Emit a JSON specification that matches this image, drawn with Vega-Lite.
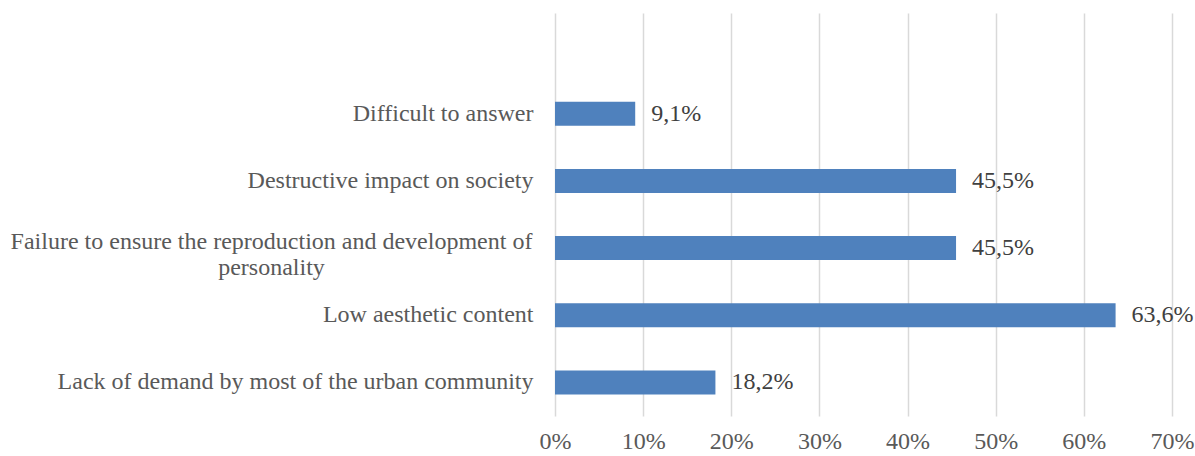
{
  "$schema": "https://vega.github.io/schema/vega-lite/v6.json",
  "width": 617,
  "height": 403,
  "autosize": {"type": "none"},
  "padding": {"left": 555, "top": 13, "right": 23, "bottom": 40},
  "background": "white",
  "config": {
    "view": {"stroke": null},
    "locale": {"number": {"decimal": ",", "thousands": " ", "grouping": [3], "currency": ["", ""]}},
    "font": "Liberation Serif"
  },
  "data": {
    "values": [
      {"category": "Difficult to answer", "share": 0.091},
      {"category": "Destructive impact on society", "share": 0.455},
      {"category": "Failure to ensure the reproduction and development of personality", "share": 0.455},
      {"category": "Low aesthetic content", "share": 0.636},
      {"category": "Lack of demand by most of the urban community", "share": 0.182}
    ]
  },
  "encoding": {
    "y": {
      "field": "category",
      "type": "nominal",
      "sort": null,
      "scale": {
        "domain": ["", "Difficult to answer", "Destructive impact on society", "Failure to ensure the reproduction and development of personality", "Low aesthetic content", "Lack of demand by most of the urban community"],
        "paddingInner": 0.643,
        "paddingOuter": 0.3215
      },
      "axis": {
        "title": null,
        "domain": false,
        "ticks": false,
        "labelFont": "Liberation Serif",
        "labelFontSize": 24,
        "labelColor": "#595959",
        "labelLimit": 600,
        "labelLineHeight": 26,
        "labelExpr": "datum.value == 'Failure to ensure the reproduction and development of personality' ? ['Failure to ensure the reproduction and development of', 'personality'] : datum.value",
        "labelAlign": {"condition": {"test": "datum.value == 'Failure to ensure the reproduction and development of personality'", "value": "center"}, "value": "right"},
        "labelPadding": {"condition": {"test": "datum.value == 'Failure to ensure the reproduction and development of personality'", "value": 284}, "value": 22},
        "labelOffset": {"condition": {"test": "datum.value == 'Failure to ensure the reproduction and development of personality'", "value": -6}, "value": 0}
      }
    },
    "x": {
      "field": "share",
      "type": "quantitative",
      "scale": {"domain": [0, 0.7], "nice": false},
      "axis": {
        "title": null,
        "format": ".0%",
        "values": [0, 0.1, 0.2, 0.3, 0.4, 0.5, 0.6, 0.7],
        "domain": false,
        "ticks": false,
        "grid": true,
        "gridColor": "#D9D9D9",
        "gridWidth": 1.5,
        "labelFont": "Liberation Serif",
        "labelFontSize": 24,
        "labelColor": "#595959",
        "labelPadding": 13,
        "labelFlush": false
      }
    }
  },
  "layer": [
    {"mark": {"type": "bar", "color": "#4F81BD"}},
    {
      "mark": {"type": "text", "align": "left", "baseline": "middle", "dx": 16, "fontSize": 24, "font": "Liberation Serif", "color": "#404040"},
      "encoding": {"text": {"field": "share", "type": "quantitative", "format": ".1%"}}
    }
  ]
}
